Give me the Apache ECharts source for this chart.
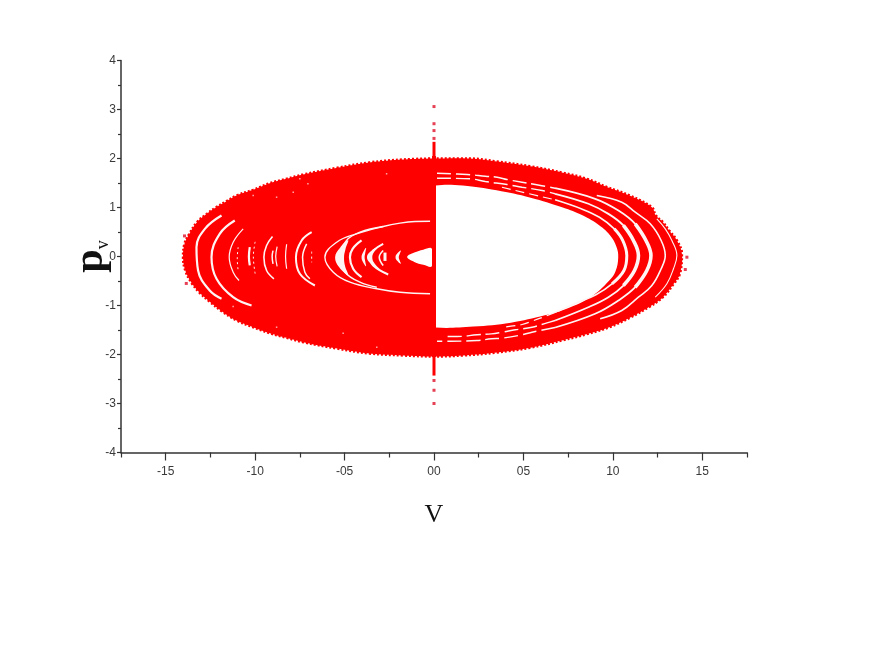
<!DOCTYPE html>
<html><head><meta charset="utf-8">
<style>html,body{margin:0;padding:0;background:#fff}#c{width:879px;height:646px}</style>
<script src="https://cdn.jsdelivr.net/npm/echarts@6/dist/echarts.min.js"></script>
</head><body><div id="c"></div>
<script>
// ---- axis labels
const xMajor = [-1.5,-1,-0.5,0,0.5,1,1.5];
const xMajorLabels = ['-15','-10','-05','00','05','10','15'];
const xMinor = [-1.75,-1.25,-0.75,-0.25,0.25,0.75,1.25,1.75];
// ---- outlines: [v, pv]
const outerEdge = [[0,2.0],[-.17,1.98],[-.36,1.92],[-.54,1.81],[-.731,1.673],[-.824,1.586],[-.918,1.496],[-1.011,1.361],[-1.104,1.245],[-1.16,1.13],[-1.22,1.0],[-1.27,.87],[-1.325,.70],[-1.37,.45],[-1.395,.259],[-1.403,-.014],[-1.39,-.29],[-1.355,-.54],[-1.31,-.74],[-1.255,-.92],[-1.185,-1.12],[-1.104,-1.306],[-1.011,-1.443],[-.918,-1.565],[-.824,-1.66],[-.731,-1.749],[-.54,-1.88],[-.36,-1.98],[-.17,-2.02],[0,-2.04],[.16,-2.02],[.35,-1.96],[.54,-1.86],[.72,-1.71],[.86,-1.578],[.98,-1.443],[1.10,-1.239],[1.20,-1.035],[1.28,-.83],[1.34,-.557],[1.375,-.35],[1.386,.055],[1.358,.327],[1.315,.53],[1.28,.70],[1.24,.84],[1.218,1.006],[1.097,1.24],[.966,1.42],[.854,1.586],[.72,1.71],[.54,1.84],[.35,1.94],[.2,2.0],[0,2.0]];
const rightHole = [[.01,1.45],[.16,1.45],[.35,1.35],[.54,1.2],[.72,1.0],[.83,.84],[.925,.633],[.985,.43],[1.02,.2],[1.03,-.02],[1.015,-.3],[.98,-.49],[.875,-.83],[.715,-1.102],[.62,-1.2],[.43,-1.35],[.22,-1.43],[.01,-1.45],[.01,-1.38],[.01,0],[.01,1.38]];
const centerHole = [[-.15,-.01],[-.11,.08],[-.06,.14],[-.012,.16],[-.012,-.2],[-.06,-.17],[-.11,-.11]];
// ---- white gaps of the right-hand ring
const g1Top=[[.38,1.414],[.455,1.347],[.677,1.157]];
const g1Mid=[[.677,1.157],[.826,.97],[.925,.80],[1.008,.565],[1.055,.33],[1.078,.02],[1.062,-.286],[.995,-.557],[.905,-.78],[.789,-.96],[.677,-1.14]];
const g1Tip=[[1.008,.565],[1.055,.33],[1.078,.02],[1.062,-.286],[.995,-.557]];
const g1Bot=[[.677,-1.14],[.623,-1.22],[.548,-1.32],[.492,-1.388],[.38,-1.443]];
const g2Top=[[.017,1.598],[.201,1.586],[.287,1.53],[.408,1.469],[.492,1.414],[.604,1.347],[.677,1.28]];
const g2Mid=[[.677,1.28],[.863,1.076],[.975,.87],[1.059,.633],[1.115,.327],[1.143,.02],[1.121,-.286],[1.059,-.592],[.975,-.83],[.863,-1.035],[.677,-1.306]];
const g2Tip=[[1.059,.633],[1.115,.327],[1.143,.02],[1.121,-.286],[1.059,-.592]];
const g2Bot=[[.677,-1.306],[.632,-1.355],[.548,-1.443],[.455,-1.496],[.38,-1.545],[.321,-1.578],[.241,-1.598],[.129,-1.633],[.054,-1.633]];
const g3Top=[[.017,1.70],[.185,1.673],[.287,1.639],[.353,1.618],[.408,1.571],[.492,1.516],[.567,1.469],[.677,1.394]];
const g3Mid=[[.677,1.394],[.901,1.178],[1.031,.939],[1.125,.667],[1.185,.327],[1.213,.02],[1.19,-.286],[1.125,-.627],[1.031,-.898],[.901,-1.169],[.677,-1.449]];
const g3Tip=[[1.125,.667],[1.185,.327],[1.213,.02],[1.19,-.286],[1.125,-.627]];
const g3Bot=[[.677,-1.449],[.548,-1.545],[.474,-1.612],[.38,-1.667],[.321,-1.68],[.241,-1.714],[.09,-1.729],[.017,-1.729]];
const g4=[[.91,1.245],[1.05,1.108],[1.125,.904],[1.209,.667],[1.27,.327],[1.293,.02],[1.27,-.25],[1.218,-.592],[1.143,-.83],[1.05,-1.102],[.929,-1.271]];
const g5=[[1.246,.769],[1.293,.565],[1.33,.327],[1.358,.02],[1.339,-.25],[1.302,-.557],[1.237,-.83]];
// ---- white arcs of the left-hand lobe
const l1=[[-1.188,.837],[-1.281,.565],[-1.328,.19],[-1.319,-.286],[-1.254,-.694],[-1.188,-.861]];
const l2=[[-1.114,.735],[-1.198,.463],[-1.244,-.014],[-1.216,-.455],[-1.123,-.83],[-1.02,-1.0]];
const l3=[[-1.067,.565],[-1.123,.292],[-1.145,-.014],[-1.123,-.32],[-1.09,-.49]];
const l3b=[[-1.095,.19],[-1.1,-.05],[-1.095,-.286]];
const l4=[[-1.03,.19],[-1.035,0],[-1.03,-.18]];
const l4b=[[-1.0,.3],[-1.01,0],[-1.0,-.35]];
const l5=[[-.903,.408],[-.936,.224],[-.951,-.014],[-.936,-.286],[-.895,-.455]];
const l5b=[[-.90,.12],[-.905,0],[-.90,-.15]];
const l5c=[[-.877,.2],[-.885,0],[-.877,-.2]];
const l5d=[[-.824,.25],[-.83,0],[-.824,-.25]];
const l6=[[-.684,.496],[-.74,.327],[-.772,-.014],[-.75,-.353],[-.666,-.592]];
const l6b=[[-.712,.259],[-.735,-.014],[-.722,-.32],[-.694,-.455]];
const l6c=[[-.684,.1],[-.684,-.12]];
const l7=[[-.022,.72],[-.106,.714],[-.19,.68],[-.284,.612],[-.433,.463],[-.544,.292],[-.61,-.014],[-.563,-.32],[-.47,-.524],[-.32,-.659],[-.19,-.729],[-.022,-.761]];
const l8=[[-.284,.612],[-.414,.496],[-.489,.327],[-.53,-.014],[-.498,-.32],[-.414,-.524],[-.32,-.627]];
const l8Blade=[[-.48,.33],[-.525,.18],[-.553,-.014],[-.53,-.22],[-.48,-.38],[-.497,-.2],[-.503,-.014],[-.495,.15]];
const l9=[[-.405,.327],[-.455,.157],[-.47,-.014],[-.452,-.251],[-.405,-.422]];
const l10Blade=[[-.38,.18],[-.40,.06],[-.405,-.014],[-.40,-.09],[-.38,-.2],[-.385,-.09],[-.388,-.014],[-.385,.06]];
const l11=[[-.284,.259],[-.34,.122],[-.358,-.014],[-.34,-.184],[-.256,-.367]];
const l11Blade=[[-.31,.2],[-.355,.1],[-.375,-.014],[-.355,-.14],[-.3,-.28],[-.335,-.13],[-.345,-.014],[-.335,.09]];
const l12=[[-.284,.122],[-.306,-.014],[-.284,-.184]];
const l13=[[-.274,.08],[-.274,-.09]];
const l14Blade=[[-.185,.12],[-.21,.04],[-.215,-.014],[-.21,-.07],[-.185,-.15],[-.193,-.07],[-.197,-.014],[-.193,.04]];
// ---- the spike on the axis of symmetry and stray points
const band=[[0,2.05],[0,-2.05]];
const spikeTop=[[0,2.34],[0,2.0]];
const spikeBot=[[0,-2.43],[0,-2.0]];
const strayDots=[[0,3.06],[0,2.71],[0,2.57],[0,2.41],[0,-3.0],[0,-2.73],[0,-2.53],[1.414,-.014],[1.405,-.265],[-1.395,.42],[-1.385,-.55]];
const specks=[[-.75,1.586],[-.705,1.484],[-.265,1.688],[-1.011,1.245],[-.88,1.21],[-.787,1.313],[-.508,-1.565],[-.32,-1.85],[-1.123,-1.02],[-.88,-1.443]];

const RED='#ff0000', GAP='#fff4f4';
const polygon=(pts,fill)=>({type:'custom',coordinateSystem:'cartesian2d',clip:true,silent:true,data:pts,encode:{x:0,y:1},
  renderItem:(p,api)=>p.dataIndex?null:{type:'polygon',shape:{points:pts.map(q=>api.coord(q)),smooth:0.4},style:{fill}}});
const stroke=(pts,width,color,dash)=>({type:'line',data:pts,smooth:0.4,symbol:'none',silent:true,animation:false,
  lineStyle:{width,color,type:dash||'solid',cap:'butt'}});
const gaps=[
 [g1Top,1.2,[9,5]],[g1Mid,1.6],[g1Tip,3],[g1Bot,1.2,[9,5]],
 [g2Top,1.4,[14,5]],[g2Mid,1.8],[g2Tip,3.6],[g2Bot,1.4,[14,5]],
 [g3Top,1.4,[14,5]],[g3Mid,1.8],[g3Tip,3.6],[g3Bot,1.4,[14,5]],
 [g4,1.6],[g5,1.1],
 [l1,2.2],[l2,2.2],[l3,1.2],[l3b,1,[2,3]],[l4,2.2],[l4b,1,[2,3]],[l5,1.6],[l5b,1.5],[l5c,1.2],[l5d,1.2],
 [l6,2],[l6b,1.5],[l6c,1,[2,3]],[l7,1.4],[l8,1.4],[l9,2.2],[l11,2],[l12,1.6],[l13,3]
];
const series=[
  polygon(outerEdge,RED),
  stroke(outerEdge,2.5,RED,[2,2]),
  polygon(rightHole,'#ffffff'),
  ...gaps.map(g=>stroke(g[0],g[1],GAP,g[2])),
  polygon(l8Blade,GAP),polygon(l10Blade,GAP),polygon(l11Blade,GAP),polygon(l14Blade,GAP),
  polygon(centerHole,'#ffffff'),
  stroke(band,4,RED),stroke(spikeTop,3,RED),stroke(spikeBot,3,RED),
  {type:'scatter',data:strayDots,symbol:'rect',symbolSize:3,silent:true,itemStyle:{color:'#e0102a'}},
  {type:'scatter',data:specks,symbol:'rect',symbolSize:1.5,silent:true,itemStyle:{color:'#ffd0d0'}}
];
const TXT='#3a3a3a';
const chart=echarts.init(document.getElementById('c'),null,{renderer:'canvas'});
chart.setOption({
  animation:false,backgroundColor:'#fff',
  grid:{left:121,top:60.5,width:626,height:392},
  xAxis:[{type:'value',min:-1.75,max:1.75,interval:.25,position:'bottom',splitLine:{show:false},
     axisLine:{onZero:false,lineStyle:{color:'#333',width:1.5}},
     axisTick:{customValues:xMajor,length:8,lineStyle:{color:'#333',width:1.2}},
     axisLabel:{customValues:xMajor,margin:13,color:TXT,fontFamily:'Liberation Sans',fontSize:12,
       formatter:v=>xMajorLabels[xMajor.findIndex(m=>Math.abs(m-v)<1e-6)]??''},
     name:'V',nameLocation:'middle',nameGap:50,
     nameTextStyle:{fontFamily:'Liberation Serif',fontSize:26,color:'#111'}},
    {type:'value',min:-1.75,max:1.75,interval:.25,position:'bottom',splitLine:{show:false},
     axisLine:{show:false,onZero:false},axisLabel:{show:false},
     axisTick:{customValues:xMinor,length:5,lineStyle:{color:'#333',width:1.2}}}],
  yAxis:{type:'value',min:-4,max:4,interval:1,splitLine:{show:false},
     axisLine:{onZero:false,lineStyle:{color:'#333',width:1.5}},
     axisTick:{length:4,lineStyle:{color:'#333',width:1.2}},
     minorTick:{show:true,splitNumber:2,length:3,lineStyle:{color:'#333',width:1.2}},
     axisLabel:{margin:5,color:TXT,fontFamily:'Liberation Sans',fontSize:12},
     name:'{p|p}{v|v}',nameLocation:'middle',nameGap:9,nameRotate:90,nameMoveOverlap:false,
     nameTextStyle:{padding:[0,0,0,0],rich:{p:{fontFamily:'Liberation Serif',fontSize:42,fontWeight:'bold',color:'#111'},
       v:{fontFamily:'Liberation Serif',fontSize:18,color:'#111',verticalAlign:'bottom'}}}},
  series
});
</script></body></html>
